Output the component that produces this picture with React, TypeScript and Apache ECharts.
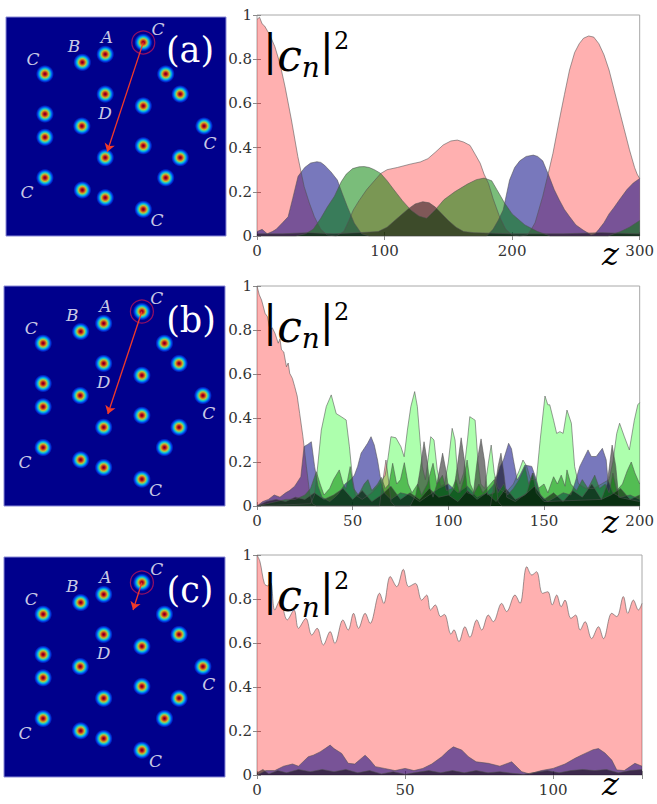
import React, { useEffect, useRef } from 'react';
import * as echarts from 'echarts';

// Waveguide lattice (normalised coordinates inside each intensity map)
const latticeX = [0.624, 0.451, 0.347, 0.177, 0.726, 0.792, 0.451, 0.624, 0.177, 0.345, 0.9, 0.177, 0.624, 0.451, 0.792, 0.177, 0.726, 0.347, 0.451, 0.624];
const latticeY = [0.884, 0.83, 0.793, 0.74, 0.74, 0.648, 0.648, 0.594, 0.557, 0.502, 0.502, 0.451, 0.412, 0.358, 0.358, 0.266, 0.266, 0.21, 0.175, 0.122];
const siteNames = ['C', 'A', 'B', 'C', 'D', 'C', 'C', 'C'];
const siteNameX = [0.691, 0.459, 0.309, 0.123, 0.45, 0.927, 0.095, 0.686];
const siteNameY = [0.945, 0.909, 0.868, 0.808, 0.562, 0.425, 0.2, 0.073];
const panelTags = ['(a)', '(b)', '(c)'];
const arrowTipX = [0.46, 0.47, 0.584];
const arrowTipY = [0.385, 0.418, 0.759];

// z ranges of the population plots
const zMaxes = [300, 200, 130];
const zSteps = [100, 50, 50];

// (a) populations |c_n|^2 vs z
const pinkA = [[0, 0.98], [2, 0.99], [4, 0.96], [6, 0.95], [8, 0.93], [10, 0.91], [14, 0.857], [18, 0.78], [22, 0.675], [27, 0.525], [32, 0.36], [37, 0.223], [41, 0.15], [45, 0.087], [50, 0.03], [55, 0.005], [62, 0], [68, 0.02], [72, 0.07], [75.5, 0.118], [80, 0.16], [86, 0.21], [92, 0.25], [97, 0.283], [102, 0.3], [110, 0.31], [120, 0.325], [128, 0.335], [134, 0.35], [140, 0.38], [146, 0.412], [152, 0.43], [157, 0.434], [162, 0.425], [167, 0.41], [171, 0.37], [175, 0.329], [178, 0.28], [181.5, 0.238], [185, 0.17], [190, 0.09], [195, 0.03], [200, 0.005], [206, 0], [212, 0.005], [215, 0.03], [218, 0.06], [224, 0.18], [229, 0.3], [232, 0.374], [237, 0.525], [241, 0.64], [245, 0.751], [249, 0.83], [252.6, 0.87], [256, 0.895], [260, 0.905], [264, 0.9], [268, 0.87], [272, 0.82], [276, 0.751], [280, 0.66], [284, 0.57], [288, 0.48], [292, 0.39], [296, 0.31], [298, 0.28], [300, 0.26]];
const blueA = [[0, 0.02], [4, 0.03], [8, 0.01], [12, 0.02], [15, 0.03], [20, 0.06], [24.4, 0.087], [28, 0.17], [32.2, 0.27], [37.4, 0.31], [42, 0.33], [47, 0.336], [50, 0.333], [53, 0.32], [58, 0.29], [63, 0.253], [67, 0.19], [71, 0.13], [76.3, 0.058], [82, 0.01], [88, 0], [180, 0], [185, 0.03], [189, 0.07], [193, 0.118], [198, 0.253], [202, 0.31], [206, 0.34], [211, 0.36], [216.6, 0.366], [220, 0.36], [224, 0.34], [229, 0.27], [233, 0.21], [237, 0.163], [241, 0.12], [245, 0.088], [250, 0.05], [255.6, 0.027], [262, 0.005], [265, 0.01], [268, 0.03], [272, 0.06], [276, 0.1], [280, 0.13], [284, 0.163], [290, 0.21], [295, 0.24], [300, 0.26]];
const greenA = [[0, 0], [30, 0], [38, 0.01], [44, 0.03], [50, 0.08], [55, 0.13], [60.7, 0.18], [66, 0.245], [70, 0.28], [75, 0.305], [80, 0.313], [84, 0.314], [88, 0.31], [92, 0.3], [97, 0.283], [102, 0.25], [107.5, 0.208], [114, 0.16], [120.5, 0.118], [127, 0.09], [133, 0.08], [140, 0.12], [146.5, 0.164], [155, 0.2], [165, 0.235], [172, 0.255], [178, 0.262], [184, 0.25], [188, 0.21], [194, 0.15], [200, 0.1], [210, 0.05], [220, 0.02], [230, 0], [275, 0], [285, 0.02], [292, 0.04], [300, 0.07]];
const blackA = [[0, 0.01], [20, 0.01], [40, 0.015], [60, 0.01], [80, 0.015], [95, 0.02], [102, 0.04], [110, 0.08], [118, 0.12], [124, 0.145], [130, 0.155], [135, 0.15], [140, 0.13], [145, 0.1], [150, 0.07], [156, 0.04], [162, 0.02], [170, 0.015], [200, 0.01], [240, 0.01], [270, 0.015], [300, 0.01]];

// (b) populations
const pinkB = [[0, 1.0], [1.2, 0.96], [2.4, 0.936], [3.5, 0.9], [4.2, 0.876], [5.5, 0.86], [6.8, 0.8], [8, 0.81], [9.4, 0.785], [11.1, 0.74], [12, 0.76], [12.8, 0.71], [14, 0.7], [15.4, 0.633], [16.3, 0.65], [17.1, 0.603], [18.5, 0.58], [19.7, 0.543], [21, 0.5], [22.3, 0.421], [24, 0.315], [25.8, 0.18], [27.5, 0.06], [29, 0.01], [31, 0], [64, 0], [65.5, 0.1], [67.4, 0.209], [69, 0.1], [70, 0.02], [72, 0], [122, 0], [124.5, 0.133], [126, 0.02], [128, 0], [200, 0]];
const limeB = [[0, 0], [28, 0.01], [30, 0.05], [31, 0.12], [33.6, 0.345], [36.2, 0.452], [38.8, 0.505], [41.4, 0.42], [44, 0.406], [46.6, 0.391], [48.3, 0.27], [50, 0.118], [51.5, 0.05], [55, 0.03], [60, 0.06], [64, 0.1], [67, 0.14], [68.5, 0.22], [70, 0.315], [72.6, 0.31], [75.2, 0.27], [76.9, 0.224], [78.6, 0.345], [80.4, 0.452], [82.4, 0.52], [83.8, 0.452], [85.5, 0.27], [86.4, 0.18], [88, 0.12], [89.5, 0.22], [90.8, 0.315], [92.5, 0.3], [94.2, 0.164], [96, 0.09], [98, 0.1], [100, 0.2], [102, 0.353], [103.5, 0.3], [104.5, 0.18], [106, 0.1], [108, 0.15], [110, 0.3], [111.2, 0.406], [114, 0.39], [115.5, 0.2], [117, 0.1], [119, 0.08], [121, 0.2], [122.4, 0.277], [124, 0.15], [126, 0.08], [130, 0.06], [134, 0.1], [137, 0.16], [139, 0.209], [141, 0.18], [143, 0.12], [146, 0.12], [148, 0.3], [150.5, 0.5], [152, 0.46], [153, 0.46], [155, 0.39], [156.6, 0.33], [158.3, 0.338], [160, 0.33], [162, 0.436], [164.3, 0.376], [166, 0.18], [168, 0.1], [172, 0.08], [176, 0.08], [180, 0.1], [184, 0.12], [186, 0.2], [188, 0.33], [189.5, 0.376], [192, 0.315], [194.6, 0.255], [197.2, 0.39], [199, 0.46], [200, 0.47]];
const blueB = [[0, 0], [3, 0.02], [6, 0.03], [9, 0.05], [12, 0.04], [15, 0.06], [17, 0.07], [19.7, 0.09], [22.9, 0.133], [24.6, 0.27], [26.5, 0.28], [28.4, 0.292], [30.1, 0.18], [31.9, 0.09], [34, 0.04], [38, 0.02], [42, 0.05], [46, 0.1], [49, 0.12], [50.9, 0.14], [52.6, 0.18], [54.4, 0.24], [57.8, 0.285], [59.6, 0.315], [61.3, 0.277], [63, 0.209], [64.7, 0.118], [66.5, 0.06], [70, 0.03], [75, 0.06], [80, 0.05], [85, 0.02], [90, 0.05], [95, 0.08], [100, 0.1], [105, 0.06], [110, 0.09], [115, 0.04], [120, 0.06], [124, 0.1], [127, 0.18], [128.8, 0.209], [131.5, 0.285], [133, 0.26], [134, 0.21], [136, 0.118], [138, 0.15], [140, 0.186], [143.6, 0.18], [146, 0.12], [148, 0.05], [152, 0.02], [156, 0.04], [160, 0.06], [164, 0.05], [166, 0.1], [168.7, 0.18], [171, 0.22], [173, 0.255], [174.7, 0.225], [177.3, 0.225], [180.5, 0.262], [182.5, 0.21], [183.4, 0.118], [186, 0.06], [190, 0.04], [195, 0.05], [200, 0.03]];
const grayB = [[0, 0], [80, 0], [83, 0.05], [85, 0.15], [87.3, 0.292], [89, 0.2], [90.5, 0.08], [92, 0.04], [94, 0.1], [97, 0.24], [99, 0.15], [100.5, 0.05], [103, 0.08], [105, 0.2], [106.7, 0.31], [108.5, 0.2], [110, 0.06], [113, 0.05], [115, 0.2], [117.1, 0.305], [119, 0.2], [120.5, 0.05], [124, 0.06], [126, 0.18], [127.5, 0.24], [129, 0.15], [130.5, 0.04], [135, 0.02], [141, 0.06], [144, 0.15], [146, 0.06], [150, 0.02], [180, 0.03], [183, 0.1], [185.6, 0.277], [187.5, 0.18], [189, 0.04], [200, 0.02]];
const darkGreenB = [[0, 0], [5, 0.01], [10, 0.02], [15, 0.03], [20, 0.03], [25, 0.05], [28, 0.08], [31, 0.156], [33, 0.1], [35, 0.05], [38, 0.08], [40, 0.12], [43, 0.164], [45, 0.1], [46.5, 0.08], [48.7, 0.179], [50.5, 0.08], [53, 0.05], [56, 0.1], [58, 0.12], [60, 0.07], [63, 0.1], [65, 0.13], [67, 0.08], [69, 0.1], [70.9, 0.194], [73, 0.1], [75, 0.12], [77, 0.197], [79, 0.1], [81, 0.06], [84, 0.1], [86, 0.05], [89, 0.1], [92, 0.194], [94, 0.1], [96.9, 0.14], [99, 0.07], [102, 0.08], [104, 0.12], [106, 0.06], [108, 0.12], [109.8, 0.209], [111.5, 0.1], [113.5, 0.06], [116, 0.1], [118, 0.06], [121, 0.09], [124, 0.12], [126, 0.06], [129, 0.1], [131, 0.05], [134, 0.08], [137, 0.12], [140.1, 0.179], [142, 0.1], [144.3, 0.15], [147, 0.08], [150, 0.1], [152, 0.06], [155, 0.133], [157, 0.1], [159, 0.14], [161, 0.09], [162, 0.164], [164, 0.1], [167, 0.07], [170, 0.12], [173, 0.08], [176.5, 0.14], [179, 0.08], [182, 0.1], [184, 0.06], [186, 0.15], [188, 0.07], [191, 0.1], [193.5, 0.16], [195.6, 0.2], [197.5, 0.15], [200, 0.1]];
const darkB = [[0, 0], [5, 0.02], [10, 0.03], [15, 0.02], [20, 0.04], [25, 0.03], [30, 0.06], [35, 0.03], [40, 0.05], [45, 0.08], [50, 0.03], [55, 0.07], [60, 0.02], [65, 0.05], [70, 0.09], [75, 0.03], [80, 0.06], [85, 0.03], [90, 0.08], [95, 0.04], [100, 0.05], [105, 0.02], [110, 0.07], [115, 0.03], [120, 0.06], [125, 0.02], [130, 0.08], [135, 0.03], [140, 0.05], [145, 0.09], [150, 0.03], [155, 0.06], [160, 0.02], [165, 0.07], [170, 0.04], [175, 0.1], [180, 0.03], [185, 0.05], [190, 0.08], [195, 0.03], [200, 0.05]];

// (c) populations
const pinkC = [[0, 1.0], [1, 0.97], [2.5, 0.87], [3.6, 0.86], [4.6, 0.875], [6, 0.75], [7.8, 0.795], [10.2, 0.705], [12.5, 0.75], [14, 0.667], [16.5, 0.712], [18.5, 0.636], [20.3, 0.667], [22.4, 0.591], [24.7, 0.652], [26.3, 0.598], [29, 0.705], [30.8, 0.659], [32.6, 0.735], [34.3, 0.667], [36.5, 0.735], [38.2, 0.689], [41.4, 0.826], [42.8, 0.78], [45, 0.902], [47.2, 0.856], [49.4, 0.935], [51.2, 0.856], [53.5, 0.871], [55.6, 0.795], [57.3, 0.818], [58.6, 0.75], [60.2, 0.773], [62, 0.72], [63.3, 0.73], [65.5, 0.64], [66.5, 0.66], [68.2, 0.606], [70.2, 0.674], [71.9, 0.626], [74.2, 0.705], [75.9, 0.659], [78.1, 0.727], [79.8, 0.697], [82.6, 0.78], [84.3, 0.743], [87.1, 0.818], [88.8, 0.78], [91.1, 0.947], [92.8, 0.909], [94.4, 0.924], [96.4, 0.826], [98.2, 0.833], [99.7, 0.773], [101.2, 0.818], [102.7, 0.765], [104, 0.795], [106, 0.712], [107.6, 0.727], [109.1, 0.659], [110.8, 0.697], [113, 0.62], [115.3, 0.674], [117, 0.62], [119.8, 0.735], [121.5, 0.72], [123.7, 0.811], [125.2, 0.735], [127.1, 0.795], [128.8, 0.75], [130, 0.78]];
const blueC = [[0, 0], [3, 0.02], [6, 0.02], [9, 0.04], [12, 0.05], [14, 0.04], [17.3, 0.083], [19, 0.09], [21.3, 0.105], [23, 0.12], [24.7, 0.136], [26, 0.12], [28.6, 0.098], [30.8, 0.053], [33, 0.05], [36.5, 0.09], [38, 0.07], [40, 0.038], [43, 0.03], [46.6, 0.02], [50, 0.03], [53, 0.02], [56, 0.03], [59, 0.05], [62.4, 0.083], [64.5, 0.11], [66.3, 0.128], [67.8, 0.12], [69.1, 0.114], [71.4, 0.083], [74, 0.06], [78.1, 0.053], [82, 0.04], [86, 0.06], [89.4, 0.015], [92, 0.005], [96, 0.02], [100, 0.03], [104, 0.05], [107.4, 0.076], [109.5, 0.09], [111.9, 0.105], [113.5, 0.115], [115.3, 0.12], [117.5, 0.1], [119.8, 0.068], [121.5, 0.023], [124, 0.02], [127.6, 0.053], [130, 0.04]];
const darkC = [[0, 0.01], [2, 0.025], [4, 0.005], [7, 0.02], [10, 0.01], [14, 0.025], [18, 0.015], [22, 0.025], [26, 0.015], [30, 0.025], [34, 0.01], [38, 0.02], [42, 0.005], [46, 0.015], [50, 0.003], [54, 0.012], [58, 0.02], [62, 0.01], [66, 0.02], [70, 0.01], [74, 0.02], [78, 0.01], [82, 0.015], [86, 0.008], [90, 0.003], [94, 0.012], [98, 0.02], [102, 0.01], [106, 0.02], [110, 0.025], [114, 0.02], [118, 0.025], [122, 0.01], [126, 0.02], [130, 0.025]];

const PINK = 'rgba(255,0,0,0.31)';
const NAVY = 'rgba(0,0,128,0.53)';
const GREEN = 'rgba(0,128,0,0.52)';
const LIME = 'rgba(0,255,0,0.32)';
const BLACK = 'rgba(0,0,0,0.5)';

const rowSeries = [
  [{ d: pinkA, c: PINK }, { d: blueA, c: NAVY }, { d: greenA, c: GREEN }, { d: blackA, c: BLACK }],
  [{ d: pinkB, c: PINK }, { d: limeB, c: LIME }, { d: blueB, c: NAVY }, { d: grayB, c: BLACK }, { d: darkGreenB, c: GREEN }, { d: darkB, c: BLACK }],
  [{ d: pinkC, c: PINK, smooth: 0.35 }, { d: blueC, c: NAVY }, { d: darkC, c: BLACK }],
];

// panel boxes (pixels)
const mapBoxes = [
  { left: 6, top: 17, width: 220, height: 219 },
  { left: 4, top: 286, width: 221, height: 220 },
  { left: 4, top: 557, width: 221, height: 220 },
];
const plotBoxes = [
  { left: 257, top: 15, width: 385, height: 221 },
  { left: 257, top: 286, width: 385, height: 220 },
  { left: 257, top: 555, width: 385, height: 220 },
];
const tagCenters = [[190, 50], [191, 320], [190, 590]];
const zLabelDy = [18, 16, 9];

const SERIF = 'DejaVu Serif';

const spotGradient = {
  type: 'radial', x: 0.5, y: 0.5, r: 0.5,
  colorStops: [
    { offset: 0, color: '#7a0000' },
    { offset: 0.14, color: '#e00000' },
    { offset: 0.3, color: '#ff8a00' },
    { offset: 0.42, color: '#f0f020' },
    { offset: 0.55, color: '#40ffc0' },
    { offset: 0.66, color: '#00c8ff' },
    { offset: 0.8, color: '#0050ff' },
    { offset: 1, color: '#00008c' },
  ],
};

// |c_n|^2 as one rich text
const popLabelRich = {
  bar: { fontSize: 42, fontFamily: SERIF, color: '#000', verticalAlign: 'middle', padding: [0, 0, 10, 0] },
  c: { fontSize: 44, fontFamily: SERIF, fontStyle: 'italic', color: '#000', verticalAlign: 'middle' },
  sub: { fontSize: 28, fontFamily: SERIF, fontStyle: 'italic', color: '#000', verticalAlign: 'bottom' },
  sup: { fontSize: 24, fontFamily: SERIF, color: '#000', verticalAlign: 'top' },
};

function buildOption() {
  const grid: any[] = [];
  const xAxis: any[] = [];
  const yAxis: any[] = [];
  const series: any[] = [];
  const graphic: any[] = [];

  for (let i = 0; i < 3; i++) {
    // intensity map
    const mb = mapBoxes[i];
    grid.push({ ...mb, show: true, backgroundColor: '#00008c', borderColor: '#8a8ad6', borderWidth: 1 });
    const gMap = grid.length - 1;
    xAxis.push({ type: 'value', gridIndex: gMap, min: 0, max: 1, show: false });
    yAxis.push({ type: 'value', gridIndex: gMap, min: 0, max: 1, show: false });
    const mx = xAxis.length - 1;
    const my = yAxis.length - 1;
    series.push({
      type: 'scatter', xAxisIndex: mx, yAxisIndex: my, silent: true,
      symbol: 'circle', symbolSize: 18,
      data: latticeX.map((x, k) => [x, latticeY[k]]),
      itemStyle: { color: spotGradient },
    });
    series.push({
      type: 'scatter', xAxisIndex: mx, yAxisIndex: my, silent: true,
      symbol: 'circle', symbolSize: 23, z: 3,
      data: [[latticeX[0], latticeY[0]]],
      itemStyle: { color: 'rgba(0,0,0,0)', borderColor: '#b8145a', borderWidth: 1.2 },
    });
    series.push({
      type: 'lines', coordinateSystem: 'cartesian2d', xAxisIndex: mx, yAxisIndex: my, silent: true, z: 4,
      symbol: ['none', 'arrow'], symbolSize: 8,
      lineStyle: { color: '#f03a2a', width: 1.3, opacity: 1 },
      data: [{ coords: [[latticeX[0], latticeY[0]], [arrowTipX[i], arrowTipY[i]]] }],
    });
    series.push({
      type: 'scatter', xAxisIndex: mx, yAxisIndex: my, silent: true, z: 5,
      symbol: 'circle', symbolSize: 1,
      itemStyle: { color: 'rgba(0,0,0,0)' },
      data: siteNames.map((n, k) => [siteNameX[k], siteNameY[k], n]),
      label: {
        show: true, position: 'inside', formatter: (p: any) => p.value[2],
        color: '#ffffff', fontSize: 17, fontStyle: 'italic', fontFamily: SERIF,
      },
    });
    graphic.push({
      type: 'text', x: tagCenters[i][0], y: tagCenters[i][1], z: 10,
      style: { text: panelTags[i], fontSize: 35, fontFamily: SERIF, fill: '#ffffff', textAlign: 'center', textVerticalAlign: 'middle' },
    });

    // population plot
    const pb = plotBoxes[i];
    grid.push({ ...pb, show: true, backgroundColor: '#ffffff', borderColor: '#a8a8a8', borderWidth: 1 });
    const gPlot = grid.length - 1;
    const step = zSteps[i];
    const tick = { show: true, inside: true, length: 4, lineStyle: { color: '#8a8a8a', width: 1 } };
    xAxis.push({
      type: 'value', gridIndex: gPlot, min: 0, max: zMaxes[i], interval: step, position: 'bottom',
      axisLine: { show: false }, axisTick: tick, splitLine: { show: false },
      axisLabel: {
        margin: 7, color: '#333', fontSize: 15, fontFamily: SERIF,
        formatter: (v: number) => (v % step === 0 ? String(v) : ''),
      },
    });
    const px = xAxis.length - 1;
    xAxis.push({
      type: 'value', gridIndex: gPlot, min: 0, max: zMaxes[i], interval: step, position: 'top',
      axisLine: { show: false }, axisTick: tick, splitLine: { show: false }, axisLabel: { show: false },
    });
    yAxis.push({
      type: 'value', gridIndex: gPlot, min: 0, max: 1, interval: 0.2, position: 'left',
      axisLine: { show: false }, axisTick: tick, splitLine: { show: false },
      axisLabel: {
        margin: 5, color: '#333', fontSize: 15, fontFamily: SERIF,
        formatter: (v: number) => (v === 0 ? '0' : v === 1 ? '1' : v.toFixed(1)),
      },
    });
    const py = yAxis.length - 1;
    yAxis.push({
      type: 'value', gridIndex: gPlot, min: 0, max: 1, interval: 0.2, position: 'right',
      axisLine: { show: false }, axisTick: tick, splitLine: { show: false }, axisLabel: { show: false },
    });
    rowSeries[i].forEach((s: any) => {
      series.push({
        type: 'line', xAxisIndex: px, yAxisIndex: py, silent: true,
        data: s.d, showSymbol: false, symbol: 'none', smooth: s.smooth || false,
        lineStyle: { color: 'rgba(80,80,80,0.7)', width: 0.8 },
        areaStyle: { color: s.c, opacity: 1 },
      });
    });

    // |c_n|^2 and z labels
    const t = pb.top;
    const b = pb.top + pb.height;
    graphic.push({
      type: 'text', x: 263, y: t + 40, z: 10,
      style: {
        text: '{bar||}{c|c}{sub|n}{bar||}{sup|2}', rich: popLabelRich,
        textAlign: 'left', textVerticalAlign: 'middle',
      },
    });
    graphic.push({
      type: 'text', x: 602, y: b + zLabelDy[i], z: 10,
      style: {
        text: 'z', fontSize: 32, fontFamily: SERIF, fontStyle: 'italic', fill: '#000',
        textAlign: 'left', textVerticalAlign: 'middle',
      },
    });
  }

  return { animation: false, backgroundColor: '#ffffff', grid, xAxis, yAxis, series, graphic };
}

export default function App() {
  const ref = useRef<HTMLDivElement>(null);
  useEffect(() => {
    if (!ref.current) return;
    const chart = echarts.init(ref.current, undefined, { renderer: 'svg' });
    chart.setOption(buildOption() as any);
    return () => chart.dispose();
  }, []);
  return <div ref={ref} style={{ position: 'fixed', left: 0, top: 0, width: 657, height: 804, background: '#fff' }} />;
}
